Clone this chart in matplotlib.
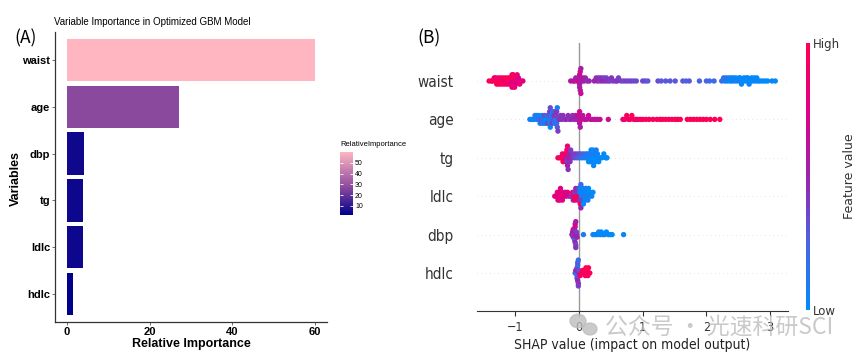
import numpy as np
import matplotlib
matplotlib.use("Agg")
import matplotlib.pyplot as plt
from matplotlib.colors import LinearSegmentedColormap, Normalize
from matplotlib.cm import ScalarMappable
from matplotlib.patches import Ellipse

plt.rcParams["font.family"] = ["DejaVu Sans"]
LEFT_FONT = "Liberation Sans"

# ---- (A) variable importance of the optimized GBM model ----
bar_vars = ["waist", "age", "dbp", "tg", "ldlc", "hdlc"]
bar_vals = [60.0, 27.0, 4.25, 3.9, 3.8, 1.5]
legend_ticks = [10, 20, 30, 40, 50]

# ---- (B) SHAP values and (scaled 0-1) feature values for each feature ----
shap_vars = ["hdlc", "dbp", "ldlc", "tg", "age", "waist"]  # bottom -> top
shap_ticks = [-1, 0, 1, 2, 3]

waist_shap = [
    -1.41, -1.37, -1.36, -1.33, -1.32, -1.31, -1.29, -1.28, -1.27, -1.25,
    -1.24, -1.23, -1.21, -1.20, -1.19, -1.17, -1.16, -1.15, -1.13, -1.12,
    -1.11, -1.09, -1.08, -1.08, -1.07, -1.05, -1.05, -1.04, -1.04, -1.03,
    -1.03, -1.01, -1.00, -1.00, -0.99, -0.97, -0.96, -0.95, -0.93, -0.91,
    -0.88,
    -0.13, -0.09, -0.07, -0.05, -0.03, 0.00, 0.00, 0.01, 0.01, 0.01,
    0.02, 0.02, 0.03, 0.03, 0.05, 0.06, 0.08, 0.10, 0.13, 0.16,
    0.24, 0.27, 0.29, 0.31, 0.33, 0.35, 0.37, 0.39, 0.41, 0.43,
    0.45, 0.48, 0.51, 0.53, 0.57, 0.60, 0.62, 0.66, 0.70, 0.74,
    0.78, 0.82, 0.86, 0.90,
    1.00, 1.04, 1.08, 1.24, 1.29, 1.36, 1.43, 1.51, 1.63, 1.68,
    1.73, 1.89, 2.00, 2.05, 2.12,
    2.24, 2.27, 2.29, 2.31, 2.33, 2.35, 2.37, 2.39, 2.40, 2.42,
    2.44, 2.46, 2.48, 2.51, 2.52, 2.53, 2.55, 2.57, 2.59, 2.61,
    2.63, 2.64, 2.65, 2.67, 2.69, 2.71, 2.73, 2.75, 2.77, 2.79,
    2.81, 2.84, 2.88, 2.92, 2.96, 3.03, 3.08,
]
waist_feat = [
    0.95, 1.0, 0.9, 0.95, 1.0, 0.85, 0.95, 1.0, 0.9, 0.95,
    1.0, 0.85, 0.95, 0.9, 1.0, 0.95, 0.85, 1.0, 0.9, 0.95,
    1.0, 0.85, 0.9, 0.95, 0.8, 0.9, 0.85, 0.75, 0.95, 0.8,
    0.9, 0.85, 0.8, 0.9, 0.75, 0.85, 0.8, 0.75, 0.85, 0.8,
    0.75,
    0.6, 0.55, 0.65, 0.5, 0.6, 0.7, 0.55, 0.6, 0.65, 0.5,
    0.7, 0.6, 0.55, 0.65, 0.5, 0.6, 0.55, 0.5, 0.45, 0.5,
    0.5, 0.45, 0.5, 0.45, 0.4, 0.45, 0.5, 0.4, 0.45, 0.4,
    0.45, 0.4, 0.45, 0.4, 0.4, 0.45, 0.4, 0.4, 0.35, 0.4,
    0.35, 0.4, 0.35, 0.35,
    0.35, 0.35, 0.3, 0.35, 0.3, 0.3, 0.3, 0.3, 0.3, 0.25,
    0.3, 0.25, 0.25, 0.2, 0.2,
    0.2, 0.15, 0.1, 0.15, 0.05, 0.1, 0.0, 0.1, 0.05, 0.0,
    0.1, 0.05, 0.0, 0.05, 0.1, 0.0, 0.05, 0.0, 0.05, 0.0,
    0.05, 0.0, 0.0, 0.05, 0.0, 0.05, 0.0, 0.0, 0.05, 0.0,
    0.0, 0.05, 0.0, 0.0, 0.0, 0.05, 0.0,
]

age_shap = [
    -0.77, -0.74, -0.71, -0.69, -0.67, -0.66, -0.64, -0.63, -0.61, -0.60,
    -0.58, -0.57, -0.55, -0.54, -0.53, -0.51, -0.50, -0.49, -0.47, -0.47,
    -0.46, -0.46, -0.45, -0.45, -0.44, -0.43, -0.42, -0.41, -0.40, -0.39,
    -0.38, -0.37, -0.36, -0.36, -0.35, -0.35, -0.34, -0.34, -0.33, -0.31,
    -0.29, -0.27,
    -0.25, -0.22, -0.20, -0.17, -0.15, -0.12, -0.10, -0.07, -0.05, -0.03,
    -0.01, 0.00, 0.00, 0.01, 0.01, 0.02, 0.04, 0.06, 0.09, 0.12,
    0.15, 0.18, 0.21, 0.25, 0.29, 0.33,
    0.46,
    0.69, 0.72, 0.75, 0.78, 0.80, 0.83, 0.86, 0.89, 0.92, 0.96,
    1.00, 1.05, 1.10, 1.16, 1.22, 1.27, 1.31, 1.36, 1.41, 1.46,
    1.51, 1.55, 1.59, 1.70, 1.75, 1.80, 1.85, 1.90, 1.95, 2.00,
    2.06, 2.13, 2.21,
]
age_feat = [
    0.1, 0.0, 0.05, 0.15, 0.0, 0.1, 0.2, 0.05, 0.1, 0.3,
    0.0, 0.15, 0.05, 0.35, 0.1, 0.0, 0.2, 0.4, 0.05, 0.3,
    0.1, 0.4, 0.0, 0.35, 0.15, 0.05, 0.4, 0.1, 0.3, 0.45,
    0.05, 0.35, 0.1, 0.4, 0.2, 0.45, 0.3, 0.1, 0.4, 0.45,
    0.4, 0.45,
    0.45, 0.4, 0.5, 0.45, 0.4, 0.5, 0.45, 0.5, 0.55, 0.5,
    0.6, 0.55, 0.65, 0.6, 0.7, 0.55, 0.65, 0.6, 0.65, 0.6,
    0.7, 0.65, 0.6, 0.65, 0.6, 0.65,
    0.65,
    0.85, 0.9, 0.95, 0.85, 0.9, 1.0, 0.9, 0.95, 0.85, 0.9,
    0.95, 1.0, 0.9, 0.95, 1.0, 0.9, 0.95, 1.0, 0.95, 0.9,
    1.0, 0.95, 1.0, 0.95, 1.0, 0.95, 1.0, 1.0, 0.95, 1.0,
    1.0, 0.95, 1.0,
]

tg_shap = [
    -0.33, -0.30, -0.28, -0.26, -0.25, -0.23, -0.22, -0.21, -0.20, -0.20,
    -0.19, -0.19, -0.18, -0.18, -0.17, -0.16, -0.15, -0.14, -0.13, -0.11,
    -0.09, -0.07, -0.05, -0.03, -0.01, 0.01, 0.03, 0.05, 0.07, 0.09,
    0.11, 0.13, 0.14, 0.15, 0.16, 0.17, 0.18, 0.19, 0.20, 0.21,
    0.22, 0.22, 0.23, 0.24, 0.25, 0.26, 0.27, 0.28, 0.29, 0.31,
    0.33, 0.36, 0.39, 0.42, 0.44,
]
tg_feat = [
    0.95, 0.9, 1.0, 0.85, 0.95, 0.9, 0.8, 0.95, 0.5, 0.9,
    0.4, 1.0, 0.55, 0.85, 0.45, 0.6, 0.5, 0.45, 0.4, 0.45,
    0.4, 0.35, 0.4, 0.3, 0.35, 0.2, 0.3, 0.15, 0.25, 0.1,
    0.15, 0.05, 0.1, 0.0, 0.05, 0.1, 0.0, 0.05, 0.0, 0.1,
    0.05, 0.0, 0.05, 0.0, 0.05, 0.0, 0.1, 0.0, 0.05, 0.0,
    0.05, 0.0, 0.0, 0.05, 0.0,
]

ldlc_shap = [
    -0.38, -0.36, -0.34, -0.33, -0.32, -0.31, -0.30, -0.29, -0.28, -0.27,
    -0.26, -0.24, -0.22, -0.20, -0.18, -0.15, -0.12, -0.10, -0.09, -0.08,
    -0.07, -0.06, -0.05, -0.04, -0.03, -0.02, -0.01, 0.00, 0.01, 0.01,
    0.02, 0.02, 0.03, 0.03, 0.04, 0.04, 0.05, 0.06, 0.07, 0.08,
    0.09, 0.10, 0.11, 0.12, 0.13, 0.14, 0.15, 0.16, 0.18, 0.20,
    0.22,
]
ldlc_feat = [
    0.8, 0.75, 0.85, 0.8, 0.75, 0.8, 0.85, 0.75, 0.8, 0.85,
    0.75, 0.8, 0.7, 0.75, 0.8, 0.6, 0.45, 0.9, 0.5, 0.95,
    0.4, 0.9, 0.5, 0.95, 0.45, 1.0, 0.4, 0.9, 0.1, 0.45,
    0.0, 0.95, 0.2, 0.5, 0.1, 0.0, 0.35, 0.05, 0.0, 0.1,
    0.05, 0.0, 0.1, 0.05, 0.0, 0.05, 0.0, 0.1, 0.0, 0.05,
    0.0,
]

dbp_shap = [
    -0.11, -0.10, -0.09, -0.09, -0.08, -0.08, -0.07, -0.07, -0.07, -0.06,
    -0.06, -0.06, -0.05, -0.05, -0.05, -0.04, -0.04, -0.03,
    0.07, 0.22, 0.25, 0.28, 0.31, 0.33, 0.35, 0.37, 0.40, 0.43,
    0.46, 0.49, 0.52, 0.70,
]
dbp_feat = [
    0.5, 0.6, 0.4, 0.7, 0.3, 0.55, 0.65, 0.45, 0.2, 0.6,
    0.5, 0.75, 0.35, 0.55, 0.45, 0.6, 0.4, 0.5,
    0.1, 0.05, 0.0, 0.05, 0.0, 0.05, 0.0, 0.0, 0.05, 0.0,
    0.05, 0.0, 0.0, 0.05,
]

hdlc_shap = [
    -0.06, -0.05, -0.04, -0.04, -0.03, -0.03, -0.03, -0.02, -0.02, -0.02,
    -0.01, -0.01, -0.01, 0.00, 0.00,
    0.02, 0.04, 0.06, 0.08, 0.09, 0.10, 0.11, 0.12, 0.13, 0.14,
    0.15, 0.17,
]
hdlc_feat = [
    0.3, 0.45, 0.2, 0.5, 0.1, 0.4, 0.35, 0.15, 0.5, 0.3,
    0.45, 0.2, 0.4, 0.6, 0.35,
    0.9, 0.95, 1.0, 0.9, 1.0, 0.95, 1.0, 0.9, 1.0, 0.95,
    1.0, 0.95,
]

shap_rows = {
    "waist": (waist_shap, waist_feat),
    "age": (age_shap, age_feat),
    "tg": (tg_shap, tg_feat),
    "ldlc": (ldlc_shap, ldlc_feat),
    "dbp": (dbp_shap, dbp_feat),
    "hdlc": (hdlc_shap, hdlc_feat),
}


def swarm_offsets(vals, bin_w=0.04, row_h=0.45):
    # same layering idea as shap's beeswarm: stack points that share a bin
    vals = np.asarray(vals, dtype=float)
    bins = np.floor(vals / bin_w + 1e-9)
    order = np.argsort(bins, kind="stable")
    ys = np.zeros(len(vals))
    layer, last = 0, None
    for i in order:
        if bins[i] != last:
            layer = 0
        ys[i] = np.ceil(layer / 2) * ((layer % 2) * 2 - 1)
        layer += 1
        last = bins[i]
    ys *= 0.9 * (row_h / np.max(ys + 1))
    return ys


fig = plt.figure(figsize=(8.59, 3.63), dpi=100)

# ================= panel A =================
cmap_gbm = LinearSegmentedColormap.from_list(
    "gbm", [(0, "#00008B"), (0.44, "#8B4A9C"), (1, "#FFB6C1")])
norm_gbm = Normalize(min(bar_vals), max(bar_vals))

ax1 = fig.add_axes([54.5 / 859, 0.1118, 272.9 / 859, 0.8011])
ypos = np.arange(len(bar_vars))[::-1]
ax1.barh(ypos, bar_vals, height=0.9, color=cmap_gbm(norm_gbm(bar_vals)))
ax1.set_xlim(-3, 63)
ax1.set_ylim(-0.6, 5.6)
ax1.set_yticks(ypos)
ax1.set_yticklabels(bar_vars, fontfamily=LEFT_FONT, fontweight="bold", fontsize=8)
ax1.set_xticks([0, 20, 40, 60])
ax1.set_xticklabels(["0", "20", "40", "60"], fontfamily=LEFT_FONT,
                    fontweight="bold", fontsize=8)
for s in ["top", "right"]:
    ax1.spines[s].set_visible(False)
for s in ["left", "bottom"]:
    ax1.spines[s].set_color("#333333")
    ax1.spines[s].set_linewidth(0.9)
ax1.tick_params(length=2, width=0.6, color="#555555", pad=1.2)

fig.text(54 / 859, 1 - 22 / 363, "Variable Importance in Optimized GBM Model",
         fontfamily=LEFT_FONT, fontsize=7, va="center", ha="left")
fig.text(191 / 859, 1 - 344 / 363, "Relative Importance", fontfamily=LEFT_FONT,
         fontweight="bold", fontsize=9, ha="center", va="center")
fig.text(16 / 859, 1 - 178 / 363, "Variables", fontfamily=LEFT_FONT,
         fontweight="bold", fontsize=9, rotation=90, ha="center", va="center")
fig.text(26 / 859, 1 - 38 / 363, "(A)", fontfamily=["Noto Sans CJK SC", "DejaVu Sans"],
         fontsize=12.5, ha="center", va="center")

# legend colour bar
cax1 = fig.add_axes([340 / 859, 1 - 215 / 363, 13 / 859, 63 / 363])
cb1 = fig.colorbar(ScalarMappable(norm=norm_gbm, cmap=cmap_gbm), cax=cax1,
                   ticks=legend_ticks)
cb1.outline.set_visible(False)
cb1.minorticks_off()
cax1.tick_params(direction="in", length=2.5, width=0.6, color="white",
                 left=True, right=True, labelsize=5, pad=1.5)
for lbl in cax1.get_yticklabels():
    lbl.set_fontfamily(LEFT_FONT)
fig.text(340 / 859, 1 - 145 / 363, "RelativeImportance", fontfamily=LEFT_FONT,
         fontsize=5.5, ha="left", va="center")

# ================= panel B =================
cmap_shap = LinearSegmentedColormap.from_list(
    "red_blue", [(0, "#008bfb"), (0.25, "#4b63e3"), (0.5, "#9b23ad"),
                 (0.75, "#e00086"), (1, "#ff0052")])

ax2 = fig.add_axes([477 / 859, 1 - 311.4 / 363, 311 / 859, 268.8 / 363])
for pos, name in enumerate(shap_vars):
    ax2.axhline(pos, color="#cccccc", lw=0.5, dashes=(1, 5), zorder=-1)
ax2.axvline(0, color="#999999", lw=1, zorder=-1)
for pos, name in enumerate(shap_vars):
    vals, feat = shap_rows[name]
    offs = swarm_offsets(vals)
    ax2.scatter(vals, pos + offs, c=cmap_shap(np.clip(feat, 0, 1)), s=15,
                linewidths=0, zorder=3)

ax2.set_xlim(-1.6, 3.28)
ax2.set_ylim(-1, len(shap_vars))
ax2.set_yticks(range(len(shap_vars)))
ax2.set_yticklabels(shap_vars, fontsize=11, color="#333333", fontstretch="condensed")
ax2.set_xticks(shap_ticks)
ax2.tick_params(axis="y", length=0, pad=17)
ax2.tick_params(axis="x", labelsize=9, labelcolor="#333333", color="#333333")
for lbl in ax2.get_xticklabels():
    lbl.set_fontstretch("condensed")
for s in ["top", "right", "left"]:
    ax2.spines[s].set_visible(False)
ax2.spines["bottom"].set_color("#333333")
ax2.set_xlabel("SHAP value (impact on model output)", fontsize=10,
               color="#222222", fontstretch="condensed", labelpad=3)

fig.text(429 / 859, 1 - 38 / 363, "(B)", fontfamily=["Noto Sans CJK SC", "DejaVu Sans"],
         fontsize=12.5, ha="center", va="center")

cax2 = fig.add_axes([806 / 859, 1 - 310 / 363, 4 / 859, 267 / 363])
cb2 = fig.colorbar(ScalarMappable(norm=Normalize(0, 1), cmap=cmap_shap),
                   cax=cax2, ticks=[0, 1])
cb2.set_ticklabels(["Low", "High"])
cb2.outline.set_visible(False)
cax2.tick_params(length=0, labelsize=8.5, pad=2, labelcolor="#333333")
cb2.set_label("Feature value", size=9, labelpad=2, color="#333333")

# watermark (drawn over the axis like in the source image)
for cx, cy, r in [(578, 321, 8), (590, 329, 7)]:
    fig.patches.append(Ellipse((cx / 100, (363 - cy) / 100), 2 * r / 100, 1.7 * r / 100,
                               transform=fig.dpi_scale_trans, color="#bdbdbd",
                               alpha=0.8, zorder=10))
fig.text(605 / 859, 1 - 327 / 363, "公众号 · 光速科研SCI",
         fontfamily=["Noto Sans CJK SC", "DejaVu Sans"], fontsize=16.5,
         color="#b8b8b8", alpha=0.75, ha="left", va="center", zorder=10)

fig.savefig("out.png", dpi=100)
